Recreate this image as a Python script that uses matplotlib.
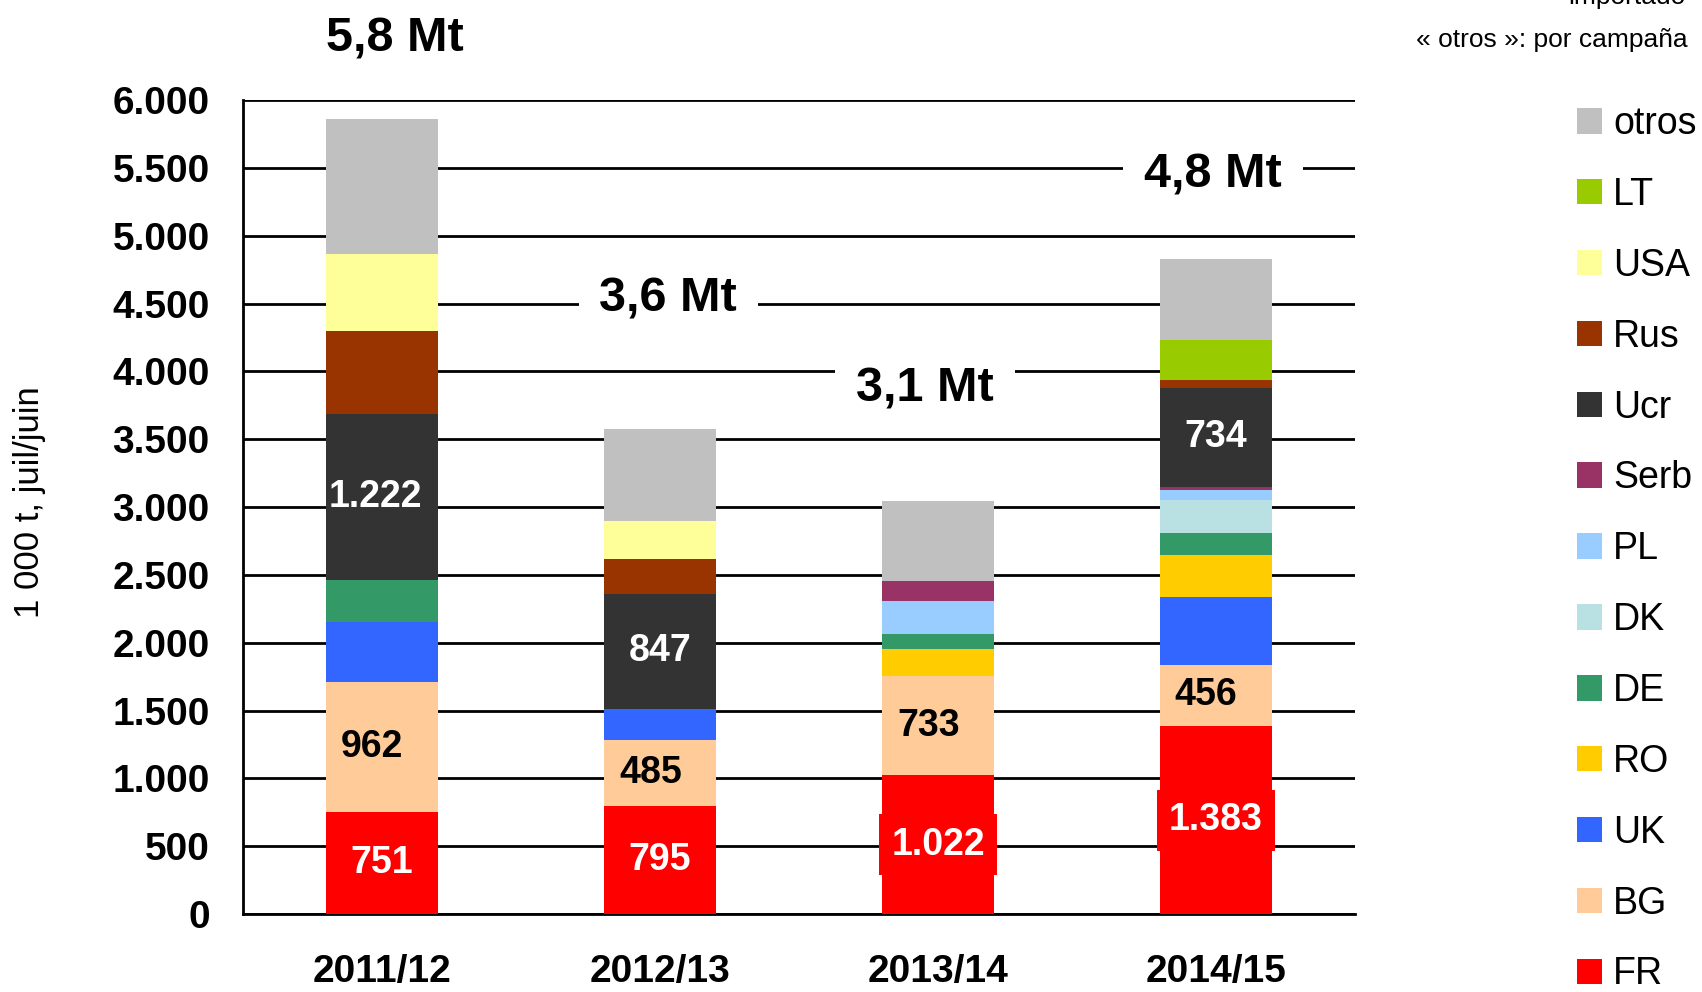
import numpy as np
import matplotlib
matplotlib.use("Agg")
import matplotlib.pyplot as plt
from matplotlib.patches import Patch

plt.rcParams['font.family'] = ['Liberation Sans', 'DejaVu Sans']

# campaigns and imports per origin (1 000 t)
years = ['2011/12', '2012/13', '2013/14', '2014/15']
origins = ['FR', 'BG', 'UK', 'RO', 'DE', 'DK', 'PL', 'Serb', 'Ucr', 'Rus', 'USA', 'LT', 'otros']
FR = [751, 795, 1022, 1383]
BG = [962, 485, 733, 456]
UK = [437, 232, 0, 495]
RO = [0, 0, 200, 312]
DE = [315, 0, 111, 163]
DK = [0, 0, 0, 245]
PL = [0, 0, 238, 75]
Serb = [0, 0, 149, 17]
Ucr = [1222, 847, 0, 734]
Rus = [608, 260, 0, 58]
USA = [573, 277, 0, 0]
LT = [0, 0, 0, 290]
otros = [989, 678, 594, 600]
totals_txt = ['5,8 Mt', '3,6 Mt', '3,1 Mt', '4,8 Mt']

colors = {
    'FR': '#FF0000', 'BG': '#FFCC99', 'UK': '#3366FF', 'RO': '#FFCC00',
    'DE': '#339966', 'DK': '#B9E0E3', 'PL': '#99CCFF', 'Serb': '#993366',
    'Ucr': '#333333', 'Rus': '#993300', 'USA': '#FFFF99', 'LT': '#99CC00',
    'otros': '#C0C0C0',
}
series = {'FR': FR, 'BG': BG, 'UK': UK, 'RO': RO, 'DE': DE, 'DK': DK, 'PL': PL,
          'Serb': Serb, 'Ucr': Ucr, 'Rus': Rus, 'USA': USA, 'LT': LT, 'otros': otros}
labeled = {'FR': 'white', 'BG': 'black', 'Ucr': 'white'}

fig = plt.figure(figsize=(17.02, 9.92), dpi=100)
ax = fig.add_axes([0.1428, 0.0786, 0.6533, 0.8206])

x = np.arange(len(years))
bottom = np.zeros(len(years))
for name in origins:
    vals = np.array(series[name], dtype=float)
    ax.bar(x, vals, 0.40, bottom=bottom, color=colors[name], zorder=3, linewidth=0)
    if name in labeled:
        for i, v in enumerate(vals):
            if v <= 0:
                continue
            txt = f"{int(v):,}".replace(',', '.')
            dx = -0.035 if name == 'BG' else 0.0
            if name == 'Ucr' and v >= 1000:
                dx = -0.025
            box = None
            if name == 'FR' and v >= 1000:
                box = dict(facecolor=colors['FR'], edgecolor='none', pad=9)
            ax.text(x[i] + dx, bottom[i] + v / 2, txt, ha='center', va='center',
                    fontsize=27, fontweight='bold', color=labeled[name], zorder=5, bbox=box)
    bottom += vals

# total annotations
ann_x = [0.045, 1.03, 1.953, 2.99]
ann_y = [6450, 4530, 3870, 5450]
for i, t in enumerate(totals_txt):
    bb = None if i == 0 else dict(facecolor='white', edgecolor='none', pad=15)
    ax.text(ann_x[i], ann_y[i], t, ha='center', va='center', fontsize=35,
            fontweight='bold', zorder=2.5, bbox=bb, clip_on=False)

ax.set_xlim(-0.5, 3.5)
ax.set_ylim(0, 6000)
ax.set_yticks(np.arange(0, 6001, 500))
ax.set_yticklabels([f"{v:,}".replace(',', '.') for v in range(0, 6001, 500)])
ax.set_xticks(x)
ax.set_xticklabels(years)
ax.tick_params(axis='y', length=0, pad=24, labelsize=28)
ax.tick_params(axis='x', length=0, pad=29, labelsize=28)
for lab in ax.get_xticklabels() + ax.get_yticklabels():
    lab.set_fontweight('bold')

ax.yaxis.grid(True, color='black', linewidth=2)
ax.set_axisbelow(True)
for s in ['top', 'right']:
    ax.spines[s].set_visible(False)
ax.spines['left'].set_linewidth(2)
ax.spines['bottom'].set_linewidth(2)

fig.text(30 / 1702, 1 - 502 / 992, '1 000 t, juil/juin', rotation=90,
         ha='center', va='center', fontsize=25)
fig.text(1688 / 1702, 1 - 40 / 992, '« otros »: por campaña', ha='right',
         va='center', fontsize=19)
fig.text(1686 / 1702, 1 - 4 / 992, 'importado', ha='right', va='baseline', fontsize=19)

handles = [Patch(facecolor=colors[n], edgecolor='none', label=n) for n in reversed(origins)]
fig.legend(handles=handles, loc='upper left', bbox_to_anchor=(1577 / 1702, 1 - 106 / 992),
           frameon=False, fontsize=27, handlelength=0.67, handleheight=0.67,
           handletextpad=0.3, labelspacing=0.93, borderpad=0, borderaxespad=0)

fig.savefig('out.png', dpi=100)
